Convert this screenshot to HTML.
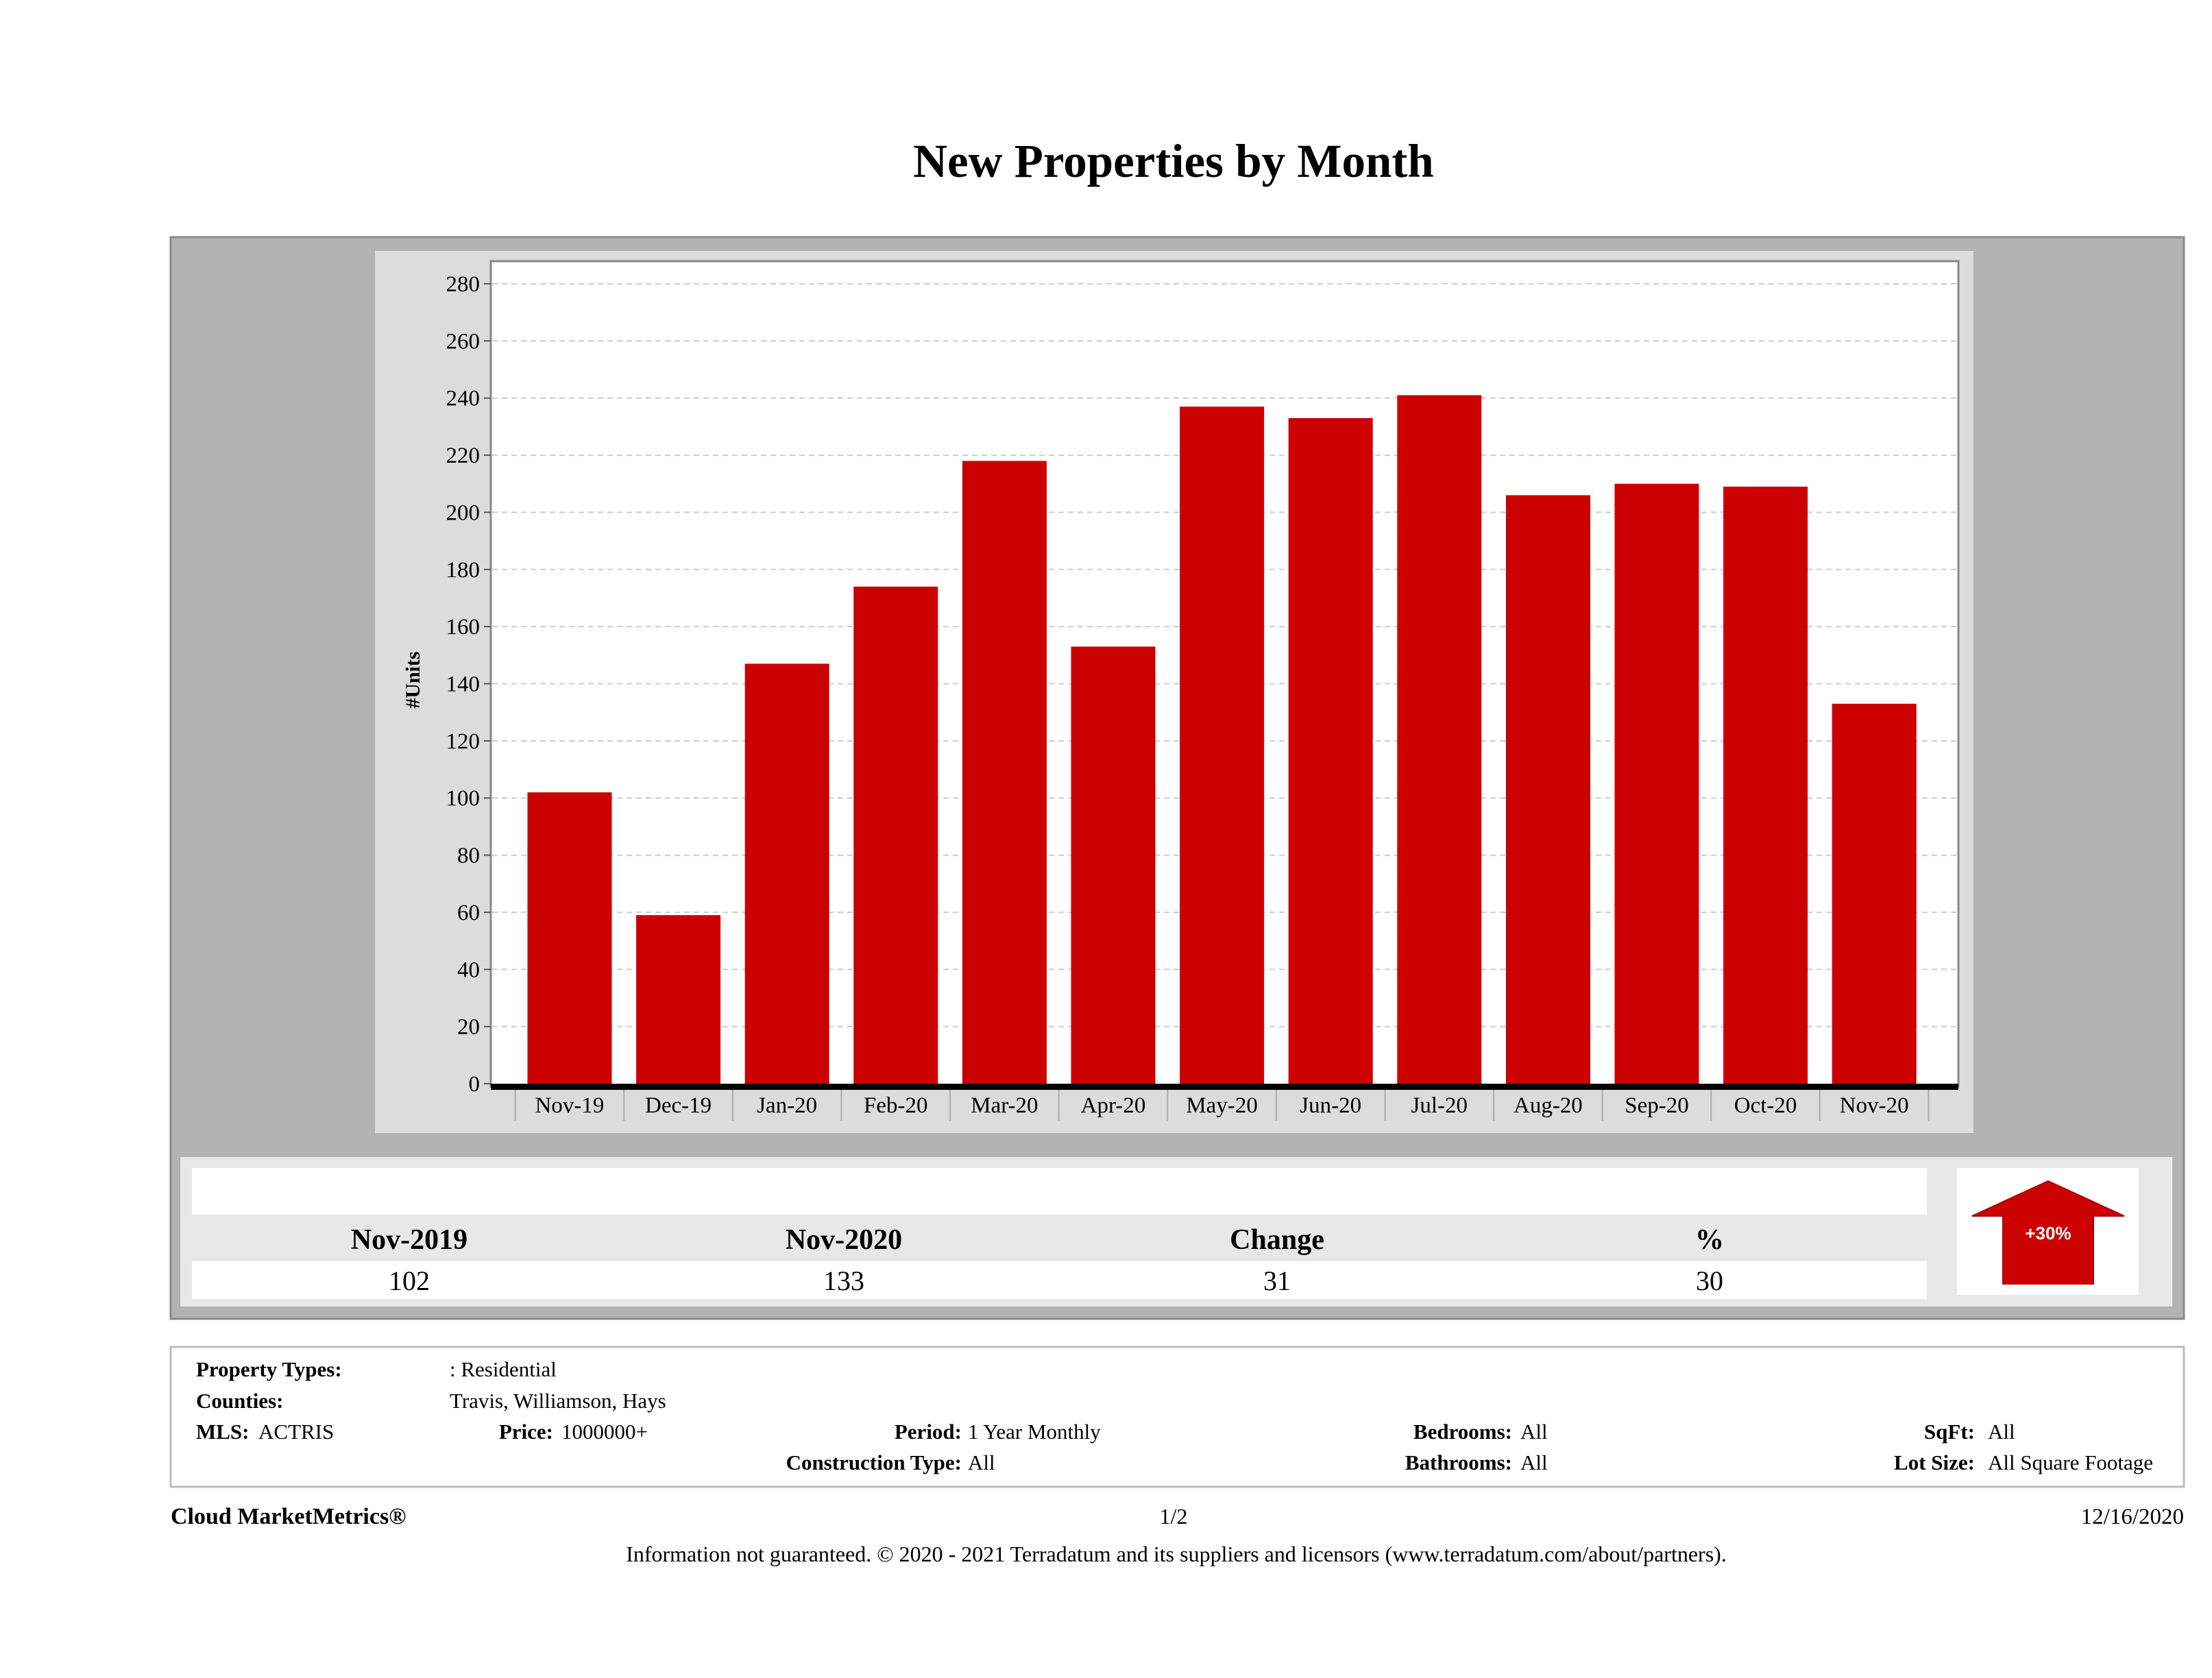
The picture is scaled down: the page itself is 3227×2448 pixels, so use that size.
<!DOCTYPE html>
<html><head><meta charset="utf-8"><style>
html,body{margin:0;padding:0;background:#fff;}
svg{display:block;font-family:"Liberation Serif",serif;}
</style></head><body>
<svg width="3227" height="2448" viewBox="0 0 3227 2448" xmlns="http://www.w3.org/2000/svg">
<text x="1712" y="258" text-anchor="middle" font-size="69" font-weight="bold">New Properties by Month</text>
<rect x="249" y="346" width="2937" height="1578" fill="#b3b3b3" stroke="#8a8a8a" stroke-width="3"/>
<rect x="547" y="366" width="2332" height="1287" fill="#dcdcdc"/>
<rect x="716" y="381" width="2141" height="1204" fill="#fff" stroke="#888" stroke-width="3"/>
<g id="grid"></g>
<g id="bars"></g>
<rect x="716" y="1581" width="2141" height="9" fill="#000"/>
<g id="xlabels"></g>
<g id="ylabels"></g>
<text transform="translate(612,992) rotate(-90)" text-anchor="middle" font-size="30" font-weight="bold">#Units</text>

<rect x="263" y="1688" width="2906" height="218" fill="#e8e8e8"/>
<rect x="280" y="1704" width="2531" height="68" fill="#fff"/>
<rect x="280" y="1840" width="2531" height="55" fill="#fff"/>
<g font-size="42" font-weight="bold" text-anchor="middle">
<text x="597" y="1822">Nov-2019</text>
<text x="1231" y="1822">Nov-2020</text>
<text x="1863" y="1822">Change</text>
<text x="2494" y="1822">%</text>
</g>
<g font-size="40" text-anchor="middle">
<text x="597" y="1882">102</text>
<text x="1231" y="1882">133</text>
<text x="1863" y="1882">31</text>
<text x="2494" y="1882">30</text>
</g>
<rect x="2855" y="1704" width="265" height="185" fill="#fff"/>
<polygon points="2988,1723 3099,1774 3054,1774 3054,1873 2922,1873 2922,1774 2877,1774" fill="#cc0000" stroke="#a00" stroke-width="2"/>
<text x="2988" y="1808" text-anchor="middle" font-family="Liberation Sans,sans-serif" font-size="26" font-weight="bold" fill="#fff">+30%</text>

<rect x="249" y="1965" width="2937" height="204" fill="#fff" stroke="#bbb" stroke-width="3"/>
<g font-size="31">
<text x="286" y="2008" font-weight="bold">Property Types:</text>
<text x="656" y="2008">: Residential</text>
<text x="286" y="2054" font-weight="bold">Counties:</text>
<text x="656" y="2054">Travis, Williamson, Hays</text>
<text x="286" y="2099" font-weight="bold">MLS:</text>
<text x="377" y="2099">ACTRIS</text>
<text x="807" y="2099" font-weight="bold" text-anchor="end">Price:</text>
<text x="819" y="2099">1000000+</text>
<text x="1403" y="2099" font-weight="bold" text-anchor="end">Period:</text>
<text x="1412" y="2099">1 Year Monthly</text>
<text x="1403" y="2144" font-weight="bold" text-anchor="end">Construction Type:</text>
<text x="1412" y="2144">All</text>
<text x="2206" y="2099" font-weight="bold" text-anchor="end">Bedrooms:</text>
<text x="2218" y="2099">All</text>
<text x="2206" y="2144" font-weight="bold" text-anchor="end">Bathrooms:</text>
<text x="2218" y="2144">All</text>
<text x="2881" y="2099" font-weight="bold" text-anchor="end">SqFt:</text>
<text x="2900" y="2099">All</text>
<text x="2881" y="2144" font-weight="bold" text-anchor="end">Lot Size:</text>
<text x="2900" y="2144">All Square Footage</text>
</g>
<text x="249" y="2223" font-size="34" font-weight="bold">Cloud MarketMetrics®</text>
<text x="1712" y="2223" font-size="32" text-anchor="middle">1/2</text>
<text x="3186" y="2223" font-size="33" text-anchor="end">12/16/2020</text>
<text x="1716" y="2278" font-size="32" text-anchor="middle">Information not guaranteed. © 2020 - 2021 Terradatum and its suppliers and licensors (www.terradatum.com/about/partners).</text>
</svg>
<script>
const categories = ["Nov-19","Dec-19","Jan-20","Feb-20","Mar-20","Apr-20","May-20","Jun-20","Jul-20","Aug-20","Sep-20","Oct-20","Nov-20"];
const values = [102,59,147,174,218,153,237,233,241,206,210,209,133];
const yTicks = [0,20,40,60,80,100,120,140,160,180,200,220,240,260,280];

const NS = "http://www.w3.org/2000/svg";
const y0 = 1581, pxPerUnit = (1581 - 414) / 280;
const yScale = v => y0 - v * pxPerUnit;
const xStart = 831, xStep = 158.6, barW = 123;
const xScale = i => xStart + i * xStep;
function mk(tag, attrs){const e=document.createElementNS(NS,tag);for(const k in attrs)e.setAttribute(k,attrs[k]);return e;}
const grid=document.getElementById('grid'), ylab=document.getElementById('ylabels');
yTicks.forEach(t=>{
  const y=yScale(t);
  if(t>0){
    const l=mk('line',{x1:718,x2:2855,y1:y,y2:y,stroke:'#ccc','stroke-width':2,'stroke-dasharray':'8 6'});
    
    
    grid.appendChild(l);
  }
  const tk=mk('line',{x1:706,x2:716,y1:y,y2:y,stroke:'#555','stroke-width':2});
  
  
  ylab.appendChild(tk);
  const tx=mk('text',{x:700,y:y+11,'text-anchor':'end','font-size':33});
  tx.textContent=t;
  
  
  ylab.appendChild(tx);
});
const bars=document.getElementById('bars'), xl=document.getElementById('xlabels');
categories.forEach((c,i)=>{
  const cx=xScale(i);
  const r=mk('rect',{x:cx-barW/2,y:yScale(values[i]),width:barW,height:values[i]*pxPerUnit,fill:'#cc0000'});
  
  
  bars.appendChild(r);
  const sep=mk('line',{x1:cx-xStep/2,x2:cx-xStep/2,y1:1590,y2:1635,stroke:'#aaa','stroke-width':2});
  
  
  xl.appendChild(sep);
  const t=mk('text',{x:cx,y:1623,'text-anchor':'middle','font-size':33});
  t.textContent=c;
  
  
  xl.appendChild(t);
});
const last=mk('line',{x1:xScale(12)+xStep/2,x2:xScale(12)+xStep/2,y1:1590,y2:1635,stroke:'#aaa','stroke-width':2});


xl.appendChild(last);
</script>
</body></html>
